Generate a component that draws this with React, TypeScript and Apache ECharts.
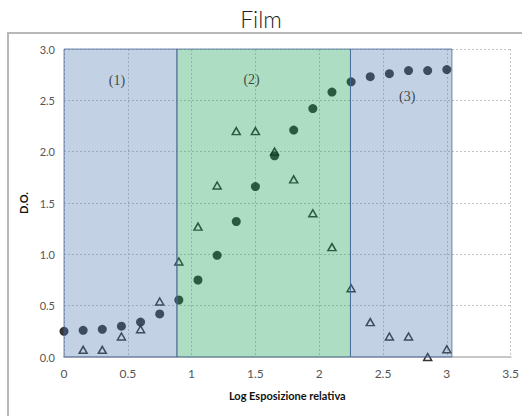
import React, { useEffect, useRef } from "react";
import * as echarts from "echarts";

const xValues = [0, 0.15, 0.3, 0.45, 0.6, 0.75, 0.9, 1.05, 1.2, 1.35, 1.5, 1.65, 1.8, 1.95, 2.1, 2.25, 2.4, 2.55, 2.7, 2.85, 3.0];
const circleValues = [0.25, 0.26, 0.27, 0.3, 0.34, 0.42, 0.555, 0.75, 0.99, 1.32, 1.66, 1.96, 2.21, 2.42, 2.58, 2.68, 2.73, 2.76, 2.79, 2.79, 2.8];
const triangleValues = [null, 0.07, 0.07, 0.2, 0.27, 0.54, 0.93, 1.27, 1.67, 2.2, 2.2, 2.0, 1.73, 1.4, 1.07, 0.67, 0.34, 0.2, 0.2, 0.0, 0.075];

const regionBounds = [0, 0.885, 2.245, 3.04];
const regionNames = ["(1)", "(2)", "(3)"];
const regionLabelPos = [
  [0.415, 2.69],
  [1.47, 2.7],
  [2.69, 2.54],
];

const xTicks = [0, 0.5, 1, 1.5, 2, 2.5, 3, 3.5];
const yTicks = [0, 0.5, 1, 1.5, 2, 2.5, 3];

export default function App() {
  const ref = useRef<HTMLDivElement>(null);
  useEffect(() => {
    if (!ref.current) return;
    const chart = echarts.init(ref.current, undefined, { renderer: "svg" });
    const blue = "rgba(80,122,176,0.35)";
    const green = "rgba(28,164,88,0.36)";
    const areaColors = [blue, green, blue];
    const option: any = {
      animation: false,
      backgroundColor: "#ffffff",
      title: {
        text: "Film",
        left: "center",
        top: 2,
        textStyle: { fontFamily: "Lato", fontWeight: 300, fontSize: 23, color: "#222" },
      },
      graphic: [
        {
          type: "rect",
          shape: { x: 8, y: 33, width: 600, height: 500 },
          style: { fill: "none", stroke: "#b8b8b8", lineWidth: 2 },
          silent: true,
        },
      ],
      grid: { left: 64, right: 11, top: 49, bottom: 59 },
      xAxis: {
        type: "value",
        min: xTicks[0],
        max: xTicks[xTicks.length - 1],
        interval: 0.5,
        name: "Log Esposizione relativa",
        nameLocation: "middle",
        nameGap: 33,
        nameTextStyle: { fontFamily: "Lato", fontWeight: "bold", fontSize: 11, color: "#111" },
        axisLine: { show: true, lineStyle: { color: "#c8c8c8", width: 2 } },
        axisTick: { show: false },
        axisLabel: {
          margin: 10,
          fontFamily: "Lato",
          fontSize: 12,
          color: "#555",
          formatter: (v: number) => String(v),
        },
        splitLine: { show: true, lineStyle: { color: "#c4c4c4", type: [2, 2], width: 1 } },
      },
      yAxis: {
        type: "value",
        min: yTicks[0],
        max: yTicks[yTicks.length - 1],
        interval: 0.5,
        name: "D.O.",
        nameLocation: "middle",
        nameGap: 34,
        nameRotate: 90,
        nameTextStyle: { fontFamily: "Lato", fontWeight: "bold", fontSize: 11, color: "#111" },
        axisLine: { show: false },
        axisTick: { show: false },
        axisLabel: {
          margin: 9,
          fontFamily: "Lato",
          fontSize: 11,
          color: "#555",
          formatter: (v: number) => v.toFixed(1),
        },
        splitLine: { show: true, lineStyle: { color: "#c4c4c4", type: [2, 2], width: 1 } },
      },
      series: [
        {
          type: "scatter",
          name: "circles",
          z: 2,
          symbol: "circle",
          symbolSize: 9,
          itemStyle: { color: "#000" },
          data: xValues.map((x, i) => [x, circleValues[i]]),
        },
        {
          type: "scatter",
          name: "triangles",
          z: 2,
          symbol: "triangle",
          symbolSize: [8, 7],
          itemStyle: { color: "rgba(0,0,0,0)", borderColor: "#000", borderWidth: 1.5 },
          data: xValues
            .map((x, i) => [x, triangleValues[i]])
            .filter((d) => d[1] !== null),
        },
        {
          type: "scatter",
          name: "regions",
          z: 6,
          data: [],
          silent: true,
          markArea: {
            silent: true,
            z: 6,
            data: regionNames.map((_, i) => [
              {
                xAxis: regionBounds[i],
                yAxis: 3,
                itemStyle: {
                  color: areaColors[i],
                  borderColor: "rgba(70,100,150,0.75)",
                  borderWidth: 1,
                },
              },
              { xAxis: regionBounds[i + 1], yAxis: 0 },
            ]),
          },
        },
        {
          type: "scatter",
          name: "regionLabels",
          z: 8,
          symbolSize: 0,
          silent: true,
          label: {
            show: true,
            position: "inside",
            formatter: (p: any) => regionNames[p.dataIndex],
            fontFamily: "Liberation Serif",
            fontSize: 14,
            color: "#222",
          },
          data: regionLabelPos.map((p) => [p[0], p[1]]),
        },
      ],
    };
    chart.setOption(option);
    return () => chart.dispose();
  }, []);
  return (
    <div
      ref={ref}
      style={{ position: "fixed", left: 0, top: 0, width: 522, height: 416 }}
    />
  );
}
